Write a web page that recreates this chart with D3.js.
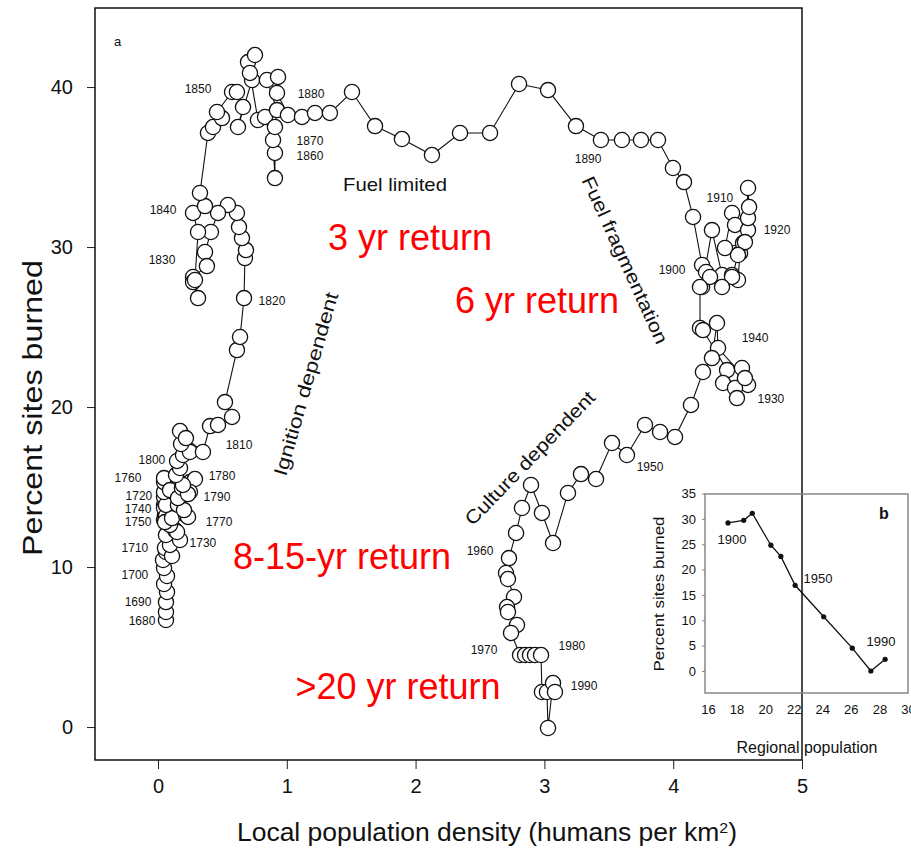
<!DOCTYPE html>
<html>
<head>
<meta charset="utf-8">
<script src="https://cdn.jsdelivr.net/npm/d3@7/dist/d3.min.js"></script>
<style>
  body { margin: 0; background: #fff; }
  svg { display: block; }
</style>
</head>
<body>
<svg id="chart" width="911" height="853"></svg>
<script>
// panel a: trajectory, local density vs percent sites burned (1680 -> 1990)
const localDensity = [
  0.062, 0.062, 0.062, 0.070, 0.047, 0.070, 0.047, 0.039, 0.062, 0.054,
  0.109, 0.093, 0.062, 0.047, 0.047, 0.047, 0.078, 0.132, 0.171, 0.148,
  0.093, 0.054, 0.047, 0.062, 0.054, 0.109, 0.062, 0.047, 0.047, 0.047,
  0.093, 0.155, 0.217, 0.233, 0.202, 0.155, 0.186, 0.248, 0.287, 0.248,
  0.233, 0.194, 0.140, 0.171, 0.148, 0.194, 0.248, 0.179, 0.171, 0.217,
  0.349, 0.404, 0.466, 0.575, 0.520, 0.613, 0.637, 0.668, 0.675, 0.683,
  0.652, 0.629, 0.613, 0.543, 0.466, 0.411, 0.365, 0.380, 0.272, 0.272,
  0.311, 0.287, 0.311, 0.272, 0.365, 0.326, 0.388, 0.427, 0.497, 0.458,
  0.575, 0.613, 0.660, 0.621, 0.730, 0.699, 0.753, 0.714, 0.776, 0.831,
  0.908, 0.908, 0.893, 0.908, 0.924, 0.846, 0.932, 0.924, 1.009, 1.118,
  1.219, 1.335, 1.506, 1.685, 1.894, 2.127, 2.345, 2.578, 2.803, 3.028,
  3.245, 3.439, 3.602, 3.750, 3.882, 3.998, 4.084, 4.154, 4.224, 4.255,
  4.224, 4.301, 4.379, 4.457, 4.503, 4.519, 4.542, 4.402, 4.457, 4.480,
  4.581, 4.581, 4.589, 4.581, 4.557, 4.503, 4.457, 4.379, 4.286, 4.208,
  4.208, 4.231, 4.418, 4.534, 4.557, 4.581, 4.387, 4.480, 4.495, 4.557,
  4.348, 4.340, 4.301, 4.231, 4.138, 4.014, 3.898, 3.781, 3.641, 3.525,
  3.401, 3.284, 3.183, 3.067, 2.981, 2.896, 2.826, 2.780, 2.725, 2.702,
  2.717, 2.764, 2.710, 2.717, 2.787, 2.741, 2.811, 2.850, 2.888, 2.927,
  2.974, 2.981, 3.020, 3.028, 3.067, 3.082
];
const sitesBurned = [
  6.69, 7.19, 7.81, 8.44, 8.94, 9.44, 9.94, 10.44, 10.94, 11.19,
  10.69, 11.38, 12.00, 12.94, 13.88, 14.38, 13.44, 12.31, 11.69, 12.19,
  12.63, 13.25, 13.69, 13.19, 12.81, 13.06, 13.88, 14.69, 15.31, 15.56,
  14.81, 13.88, 13.25, 13.13, 13.56, 14.31, 14.94, 15.31, 15.50, 14.69,
  14.56, 15.13, 15.75, 16.19, 16.63, 17.00, 17.19, 17.69, 18.50, 18.06,
  17.19, 18.81, 18.88, 19.38, 20.31, 23.56, 24.38, 26.81, 29.31, 29.81,
  30.56, 31.25, 32.13, 32.63, 32.13, 30.94, 29.69, 28.81, 28.13, 27.81,
  26.81, 27.94, 30.94, 32.13, 32.56, 33.38, 37.13, 37.50, 38.06, 38.44,
  39.69, 39.69, 38.75, 37.50, 40.44, 41.56, 42.00, 40.88, 37.94, 38.13,
  35.88, 34.31, 36.69, 37.50, 38.56, 40.44, 40.63, 39.63, 38.25, 38.13,
  38.38, 38.38, 39.69, 37.56, 36.75, 35.75, 37.13, 37.13, 40.19, 39.81,
  37.56, 36.69, 36.69, 36.69, 36.69, 34.94, 34.06, 31.88, 28.88, 28.44,
  27.50, 31.06, 28.25, 28.25, 27.94, 29.63, 30.25, 29.94, 32.13, 31.38,
  31.06, 31.81, 32.50, 33.69, 30.31, 29.50, 28.13, 27.50, 28.13, 27.50,
  24.94, 24.81, 22.31, 22.44, 21.69, 21.38, 21.50, 21.19, 20.56, 21.81,
  23.69, 25.25, 23.06, 22.19, 20.13, 18.13, 18.44, 18.88, 17.00, 17.75,
  15.50, 15.81, 14.63, 11.50, 13.38, 15.13, 13.69, 12.13, 10.56, 9.63,
  9.25, 8.13, 7.50, 7.19, 6.38, 5.88, 4.50, 4.50, 4.50, 4.50,
  4.50, 2.19, 2.19, -0.06, 2.75, 2.19
];

const yearLabels = ["1680", "1690", "1700", "1710", "1720", "1730", "1740", "1750", "1760", "1770",
  "1780", "1790", "1800", "1810", "1820", "1830", "1840", "1850", "1860", "1870", "1880", "1890",
  "1900", "1910", "1920", "1930", "1940", "1950", "1960", "1970", "1980", "1990"];
const yearLabelDensity = [-0.124, -0.155, -0.179, -0.179, -0.148, 0.349, -0.155, -0.155, -0.233, 0.474,
  0.497, 0.458, -0.047, 0.629, 0.885, 0.031, 0.039, 0.311, 1.180, 1.180, 1.188, 3.339,
  3.991, 4.363, 4.806, 4.759, 4.635, 3.820, 2.500, 2.531, 3.214, 3.308];
const yearLabelBurned = [6.63, 7.81, 9.50, 11.19, 14.45, 11.50, 13.65, 12.81, 15.56, 12.81,
  15.69, 14.38, 16.69, 17.63, 26.63, 29.19, 32.31, 39.88, 35.69, 36.63, 39.56, 35.50,
  28.56, 33.06, 31.06, 20.50, 24.31, 16.25, 11.00, 4.81, 5.06, 2.56];

const phaseLabels = ["Fuel limited", "Ignition dependent", "Fuel fragmentation", "Culture dependent"];
const phaseDensity = [1.840, 1.149, 3.626, 2.888];
const phaseBurned = [33.94, 21.44, 29.19, 16.81];

const returnLabels = ["3 yr return", "6 yr return", "8-15-yr return", ">20 yr return"];
const returnDensity = [1.957, 2.943, 1.429, 1.863];
const returnBurned = [29.81, 25.88, 9.88, 1.75];

const xTicks = [0, 1, 2, 3, 4, 5];
const yTicks = [0, 10, 20, 30, 40];

// panel b: regional population vs percent sites burned
const regionalPop = [17.4, 18.5, 19.1, 20.4, 21.1, 22.1, 24.1, 26.1, 27.4, 28.4];
const regionalBurned = [29.2, 29.7, 31.1, 24.8, 22.6, 16.9, 10.7, 4.5, 0.0, 2.3];
const insetYears = ["1900", "1950", "1990"];
const insetYearPop = [17.68, 23.70, 28.11];
const insetYearBurned = [26.0, 18.3, 5.9];
const insetXTicks = [16, 18, 20, 22, 24, 26, 28, 30];
const insetYTicks = [0, 5, 10, 15, 20, 25, 30, 35];

const svg = d3.select("#chart");
const font = "'Liberation Sans', Arial, sans-serif";
const narrow = "'Liberation Sans Narrow', 'Liberation Sans', Arial, sans-serif";

const x = d3.scaleLinear().domain([-0.489, 5.0]).range([95, 802]);
const y = d3.scaleLinear().domain([-2.06, 44.94]).range([760, 8]);

// axes
const xAxis = svg.append("g")
  .attr("transform", "translate(0,760)")
  .call(d3.axisBottom(x).tickValues(xTicks).tickSize(9).tickPadding(10).tickFormat(d3.format("d")));
const yAxis = svg.append("g")
  .attr("transform", "translate(95,0)")
  .call(d3.axisLeft(y).tickValues(yTicks).tickSize(8).tickPadding(14).tickFormat(d3.format("d")));
[xAxis, yAxis].forEach(function(g) {
  g.select(".domain").remove();
  g.selectAll(".tick line").attr("stroke", "#222").attr("stroke-width", 1);
  g.selectAll(".tick text").attr("font-family", font).attr("font-size", 20).attr("fill", "#111");
});

svg.append("text")
  .attr("x", 487).attr("y", 841)
  .attr("text-anchor", "middle")
  .attr("font-family", narrow).attr("font-size", 25).attr("fill", "#111")
  .attr("textLength", 500).attr("lengthAdjust", "spacingAndGlyphs")
  .text("Local population density (humans per km")
  .append("tspan").attr("baseline-shift", "super").attr("font-size", 15).text("2")
  .select(function() { return this.parentNode; })
  .append("tspan").text(")");

svg.append("text")
  .attr("transform", "translate(42,408) rotate(-90)")
  .attr("text-anchor", "middle")
  .attr("font-family", narrow).attr("font-size", 28).attr("fill", "#111")
  .attr("textLength", 296).attr("lengthAdjust", "spacingAndGlyphs")
  .text("Percent sites burned");

// trajectory
const pts = localDensity.map(function(d, i) { return [x(d), y(sitesBurned[i])]; });
svg.append("path")
  .attr("d", d3.line()(pts))
  .attr("fill", "none").attr("stroke", "#111").attr("stroke-width", 1.1);
svg.append("g").selectAll("circle")
  .data(pts)
  .enter().append("circle")
  .attr("cx", function(d) { return d[0]; })
  .attr("cy", function(d) { return d[1]; })
  .attr("r", 7.6)
  .attr("fill", "#fff").attr("stroke", "#111").attr("stroke-width", 1.3);

// year labels
svg.append("g").selectAll("text")
  .data(yearLabels)
  .enter().append("text")
  .attr("x", function(d, i) { return x(yearLabelDensity[i]); })
  .attr("y", function(d, i) { return y(yearLabelBurned[i]); })
  .attr("text-anchor", "middle").attr("dominant-baseline", "central")
  .attr("font-family", narrow).attr("font-size", 12).attr("fill", "#111")
  .text(function(d) { return d; });

// phase labels
const phaseAngle = [0, -74, 65.5, -46];
const phaseLen = [104, 190, 182, 178];
svg.append("g").selectAll("text")
  .data(phaseLabels)
  .enter().append("text")
  .attr("transform", function(d, i) {
    return "translate(" + x(phaseDensity[i]) + "," + y(phaseBurned[i]) + ") rotate(" + phaseAngle[i] + ")";
  })
  .attr("text-anchor", "middle").attr("dominant-baseline", "central")
  .attr("font-family", narrow).attr("font-size", 19).attr("fill", "#111")
  .attr("textLength", function(d, i) { return phaseLen[i]; })
  .attr("lengthAdjust", "spacingAndGlyphs")
  .text(function(d) { return d; });

svg.append("text")
  .attr("x", 114).attr("y", 46)
  .attr("font-family", font).attr("font-size", 13).attr("fill", "#111")
  .text("a");

// red return-interval labels
svg.append("g").selectAll("text")
  .data(returnLabels)
  .enter().append("text")
  .attr("x", function(d, i) { return x(returnDensity[i]); })
  .attr("y", function(d, i) { return y(returnBurned[i]); })
  .attr("text-anchor", "middle")
  .attr("font-family", font).attr("font-size", 36).attr("fill", "#ff0000")
  .text(function(d) { return d; });

// main frame
svg.append("rect")
  .attr("x", 95).attr("y", 8).attr("width", 707).attr("height", 752)
  .attr("fill", "none").attr("stroke", "#111").attr("stroke-width", 1.5);

// inset b
const ix = d3.scaleLinear().domain([15.79, 30.0]).range([705, 908]);
const iy = d3.scaleLinear().domain([-4.34, 34.9]).range([693, 494]);

svg.append("rect")
  .attr("x", 705).attr("y", 494).attr("width", 203).attr("height", 199)
  .attr("fill", "none").attr("stroke", "#888").attr("stroke-width", 1.5);

const ixAxis = svg.append("g")
  .attr("transform", "translate(0,693)")
  .call(d3.axisBottom(ix).tickValues(insetXTicks).tickSize(0).tickPadding(12));
const iyAxis = svg.append("g")
  .attr("transform", "translate(705,0)")
  .call(d3.axisLeft(iy).tickValues(insetYTicks).tickSize(3).tickPadding(6));
[ixAxis, iyAxis].forEach(function(g) {
  g.select(".domain").remove();
  g.selectAll(".tick line").attr("stroke", "#888");
  g.selectAll(".tick text").attr("font-family", narrow).attr("font-size", 13).attr("fill", "#111");
});

svg.append("text")
  .attr("x", 807).attr("y", 753)
  .attr("text-anchor", "middle")
  .attr("font-family", narrow).attr("font-size", 16).attr("fill", "#111")
  .attr("textLength", 141).attr("lengthAdjust", "spacingAndGlyphs")
  .text("Regional population");
svg.append("text")
  .attr("transform", "translate(664,594) rotate(-90)")
  .attr("text-anchor", "middle")
  .attr("font-family", narrow).attr("font-size", 15).attr("fill", "#111")
  .attr("textLength", 155).attr("lengthAdjust", "spacingAndGlyphs")
  .text("Percent sites burned");
svg.append("text")
  .attr("x", 884).attr("y", 519)
  .attr("text-anchor", "middle")
  .attr("font-family", font).attr("font-size", 16).attr("font-weight", "bold").attr("fill", "#111")
  .text("b");

const ipts = regionalPop.map(function(d, i) { return [ix(d), iy(regionalBurned[i])]; });
svg.append("path")
  .attr("d", d3.line()(ipts))
  .attr("fill", "none").attr("stroke", "#111").attr("stroke-width", 1.3);
svg.append("g").selectAll("circle")
  .data(ipts)
  .enter().append("circle")
  .attr("cx", function(d) { return d[0]; })
  .attr("cy", function(d) { return d[1]; })
  .attr("r", 2.6).attr("fill", "#111");
svg.append("g").selectAll("text")
  .data(insetYears)
  .enter().append("text")
  .attr("x", function(d, i) { return ix(insetYearPop[i]); })
  .attr("y", function(d, i) { return iy(insetYearBurned[i]); })
  .attr("text-anchor", "middle").attr("dominant-baseline", "central")
  .attr("font-family", narrow).attr("font-size", 13).attr("fill", "#111")
  .text(function(d) { return d; });
</script>
</body>
</html>
